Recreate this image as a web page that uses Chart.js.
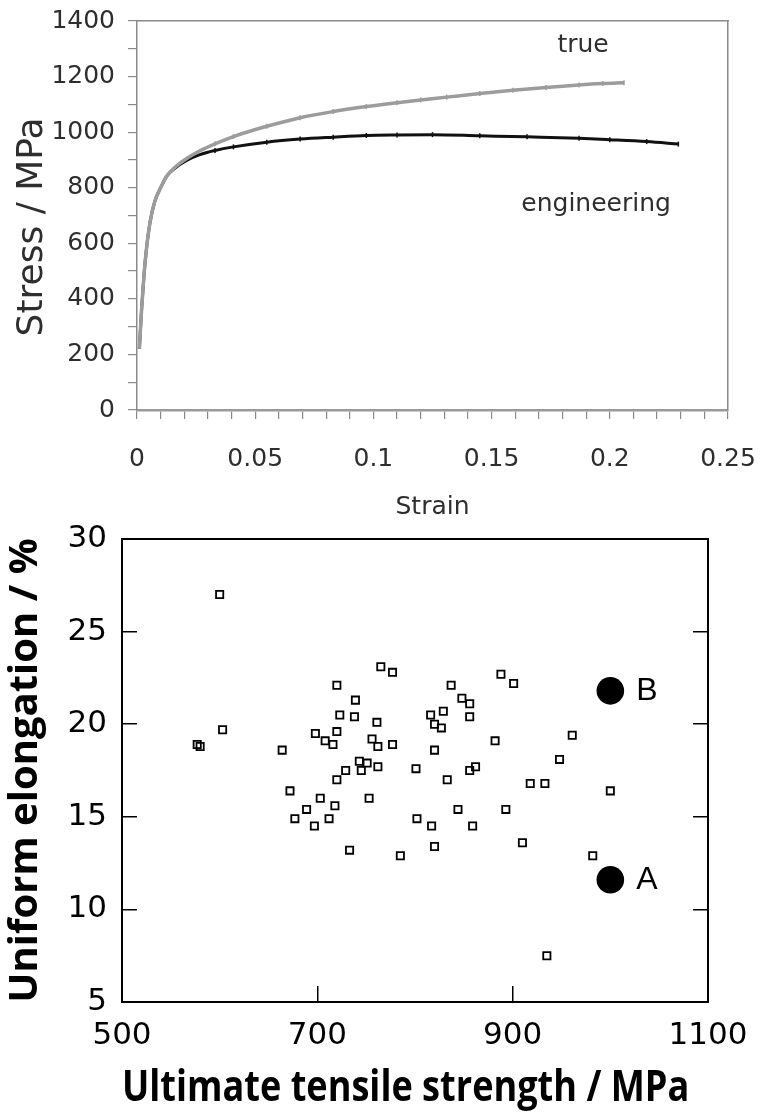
<!DOCTYPE html>
<html><head><meta charset="utf-8">
<script src="https://cdn.jsdelivr.net/npm/chart.js@4.4.1/dist/chart.umd.min.js"></script>
<style>
html,body{margin:0;padding:0;background:#fff;}
body{width:763px;height:1116px;position:relative;overflow:hidden;}
canvas{position:absolute;left:0;}
#c1{top:0;} #c2{top:520px;}
</style></head><body>
<canvas id="c1" width="763" height="525"></canvas>
<canvas id="c2" width="763" height="596"></canvas>
<script>
// ---------- Top chart data: stress-strain curves ----------
const trueStrain = [0.001,0.002,0.003,0.004,0.0055,0.0075,0.01,0.0126,0.016,0.021,0.0266,0.033,0.0408,0.0549,0.069,0.083,0.097,0.11,0.12,0.131,0.145,0.159,0.173,0.187,0.197,0.206];
const trueStress = [220,370,490,580,675,750,800,842,873,905,933,958,984,1021,1052,1074,1092,1106,1116,1126,1139,1151,1161,1170,1175,1178];
const engStrain = [0.001,0.002,0.003,0.004,0.0055,0.0075,0.01,0.0126,0.016,0.021,0.0266,0.033,0.0408,0.0549,0.069,0.083,0.097,0.11,0.125,0.145,0.165,0.187,0.2,0.2156,0.229];
const engStress = [220,370,490,580,675,750,800,842,870,898,919,934,947,964,975,982,988,990,991,987,983,978,973,966,957];
const topLabels = ['true','engineering'];
const topLabelStrain = [0.1887,0.1942];
const topLabelStress = [1313,738];

// ---------- Bottom chart data: UTS vs uniform elongation ----------
const utsValues = [600,577,580,603,664,672,677,689,697,703,698,708,716,720,720,723,712,718,720,729,733,739,738,743,745,751,753,756,761,762,762,765,777,777,785,801,802,816,817,888,901,837,848,856,856,829,820,827,820,882,961,948,862,856,833,918,933,1000,844,893,859,820,910,982,935];
const ueValues  = [27.0,18.9,18.8,19.7,18.6,16.4,14.9,15.4,14.5,16.0,19.5,19.1,18.9,19.6,22.1,20.5,14.9,15.6,17.0,17.5,13.2,21.3,20.4,18.0,17.5,17.9,16.0,19.2,20.1,18.8,17.7,23.1,22.8,18.9,12.9,17.6,14.9,20.5,14.5,22.7,22.2,22.1,21.4,21.1,20.4,20.7,20.0,19.8,18.6,19.1,19.4,18.1,17.7,17.5,17.0,16.8,16.8,16.4,15.4,15.4,14.5,13.4,13.6,12.9,7.5];
const refNames = ['A','B'];
const refUts = [1000,1000];
const refUe = [11.6,21.8];

// ---------- helpers ----------
const pts = (xs, ys) => xs.map((x, i) => ({x, y: ys[i]}));

const textLabels = {
  id: 'textLabels',
  afterDatasetsDraw(chart, args, o) {
    const {ctx} = chart;
    const xs = chart.scales.x, ys = chart.scales.y;
    ctx.save();
    ctx.font = o.font; ctx.fillStyle = o.color; ctx.textAlign = o.align; ctx.textBaseline = 'middle';
    for (let i = 0; i < o.texts.length; i++) {
      ctx.fillText(o.texts[i], xs.getPixelForValue(o.xv[i]) + o.dx, ys.getPixelForValue(o.yv[i]));
    }
    ctx.restore();
  }
};

const fixW = w => s => { s.width = w; s.paddingTop = 0; s.paddingBottom = 0; s.paddingLeft = 0; s.paddingRight = 0; };
const fixH = h => s => { s.height = h; s.paddingTop = 0; s.paddingBottom = 0; s.paddingLeft = 0; s.paddingRight = 0; };

const DJ = 'DejaVu Sans';
const OS = 'Open Sans';

// ---------- Top chart ----------
new Chart(document.getElementById('c1'), {
  type: 'scatter',
  data: {
    datasets: [
      { label: 'true', data: pts(trueStrain, trueStress), showLine: true,
        borderColor: '#9c9c9c', borderWidth: 3.5, cubicInterpolationMode: 'monotone',
        pointStyle: 'line', rotation: 90, pointBorderColor: '#9c9c9c', pointBorderWidth: 1.5,
        pointRadius: c => (c.raw && c.raw.x < 0.03 ? 0 : 2.5) },
      { label: 'engineering', data: pts(engStrain, engStress), showLine: true,
        borderColor: '#111', borderWidth: 3, cubicInterpolationMode: 'monotone',
        pointStyle: 'line', rotation: 90, pointBorderColor: '#111', pointBorderWidth: 1.5,
        pointRadius: c => (c.raw && c.raw.x < 0.03 ? 0 : 2.5) }
    ]
  },
  options: {
    responsive: false, animation: false, events: [], devicePixelRatio: 1,
    layout: { padding: 0 },
    plugins: {
      legend: { display: false }, tooltip: { enabled: false },
      textLabels: { texts: topLabels, xv: topLabelStrain, yv: topLabelStress, dx: 0,
        font: '25px "DejaVu Sans"', color: '#2e2e2e', align: 'center' }
    },
    scales: {
      x: { type: 'linear', position: 'bottom', min: 0, max: 0.25,
        ticks: { stepSize: 0.01, autoSkip: false, maxRotation: 0, minRotation: 0, padding: 25, color: '#2e2e2e',
          font: { family: DJ, size: 25 },
          callback: v => { const k = Math.round(v * 100); return k % 5 === 0 ? String(k / 100) : ''; } },
        grid: { drawOnChartArea: false, drawTicks: true, tickLength: 9, color: '#8a8a8a', lineWidth: 1.2 },
        border: { display: true, color: '#9a9a9a', width: 2.5 },
        title: { display: true, text: 'Strain', color: '#2e2e2e', font: { family: DJ, size: 25 }, padding: { top: 0, bottom: 3 } },
        afterFit: fixH(115) },
      y: { type: 'linear', position: 'left', min: 0, max: 1400,
        ticks: { stepSize: 100, autoSkip: false, padding: 13, color: '#2e2e2e', font: { family: DJ, size: 25 },
          callback: v => (Math.round(v) % 200 === 0 ? String(Math.round(v)) : '') },
        grid: { drawOnChartArea: false, drawTicks: true, tickLength: 9, color: '#8a8a8a', lineWidth: 1.2 },
        border: { display: true, color: '#8a8a8a', width: 1.5 },
        title: { display: true, text: 'Stress / MPa  ', color: '#2e2e2e', font: { family: DJ, size: 36 }, padding: { top: 10.9, bottom: 0 } },
        afterFit: fixW(137) },
      x2: { type: 'linear', position: 'top', min: 0, max: 0.25,
        ticks: { display: false }, grid: { display: false },
        border: { display: true, color: '#8a8a8a', width: 1.5 },
        afterFit: fixH(21) },
      y2: { type: 'linear', position: 'right', min: 0, max: 1400,
        ticks: { display: false }, grid: { display: false },
        border: { display: true, color: '#8a8a8a', width: 1.5 },
        afterFit: fixW(35) }
    }
  },
  plugins: [textLabels]
});

// ---------- Bottom chart ----------
new Chart(document.getElementById('c2'), {
  type: 'scatter',
  data: {
    datasets: [
      { label: 'reference steels', data: pts(refUts, refUe), pointStyle: 'circle', pointRadius: 13.8,
        pointHoverRadius: 13.8, backgroundColor: '#000', borderColor: '#000', pointBorderWidth: 0 },
      { label: 'alloys', data: pts(utsValues, ueValues), pointStyle: 'rect', pointRadius: 5.1,
        pointHoverRadius: 5.1, backgroundColor: 'rgba(0,0,0,0)', borderColor: '#000', pointBorderWidth: 1.8 }
    ]
  },
  options: {
    responsive: false, animation: false, events: [], devicePixelRatio: 1,
    layout: { padding: 0 },
    plugins: {
      legend: { display: false }, tooltip: { enabled: false },
      textLabels: { texts: refNames, xv: refUts, yv: refUe, dx: 26,
        font: '32px "Liberation Sans"', color: '#000', align: 'left' }
    },
    scales: {
      x: { type: 'linear', position: 'bottom', min: 500, max: 1100,
        ticks: { stepSize: 200, autoSkip: false, maxRotation: 0, minRotation: 0, padding: 31, color: '#000',
          font: { family: DJ, size: 31 }, callback: v => String(v) },
        grid: { drawOnChartArea: false, drawTicks: true, tickLength: -16, color: '#000', lineWidth: 1.5 },
        border: { display: true, color: '#000', width: 2 },
        title: { display: true, text: 'Ultimate tensile strength / MPa  ', color: '#000',
          font: { family: OS, size: 43, weight: 'bold' }, padding: { top: 0, bottom: 1.2 } },
        afterFit: fixH(114) },
      y: { type: 'linear', position: 'left', min: 5, max: 30,
        ticks: { stepSize: 5, autoSkip: false, padding: 30, color: '#000', font: { family: DJ, size: 31 },
          callback: v => String(v) },
        grid: { drawOnChartArea: false, drawTicks: true, tickLength: -15, color: '#000', lineWidth: 1.5 },
        border: { display: true, color: '#000', width: 2 },
        title: { display: true, text: 'Uniform elongation / %', color: '#000',
          font: { family: OS, size: 40, weight: 'bold' }, padding: { top: 2, bottom: 0 } },
        afterFit: fixW(122) },
      y2: { type: 'linear', position: 'right', min: 5, max: 30,
        ticks: { display: false, stepSize: 5 },
        grid: { drawOnChartArea: false, drawTicks: true, tickLength: -15, color: '#000', lineWidth: 1.5 },
        border: { display: true, color: '#000', width: 2 },
        afterFit: fixW(55) },
      x2: { type: 'linear', position: 'top', min: 500, max: 1100,
        ticks: { display: false }, grid: { display: false },
        border: { display: true, color: '#000', width: 2 },
        afterFit: fixH(19) }
    }
  },
  plugins: [textLabels]
});
</script>
</body></html>
